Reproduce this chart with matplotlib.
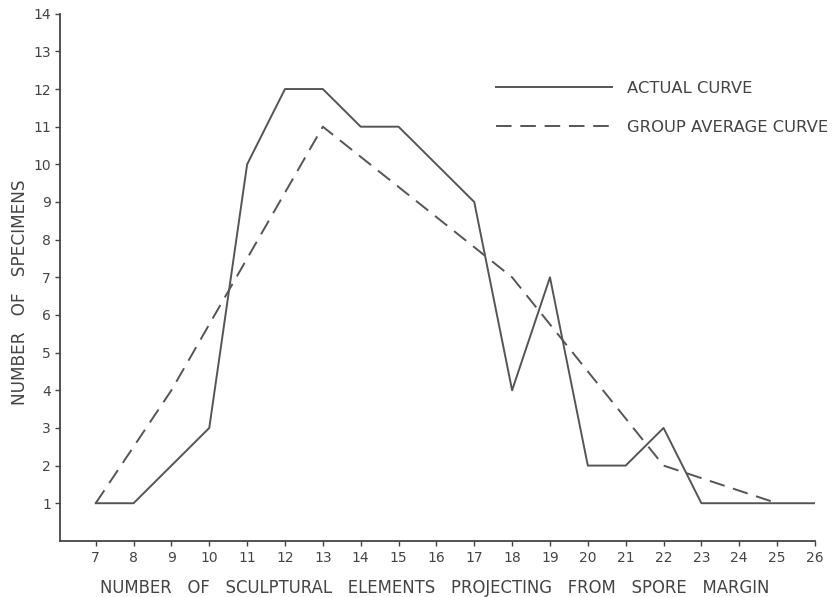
import matplotlib.pyplot as plt

# numero di elementi scultorei (asse x)
elementi = [7, 8, 9, 10, 11, 12, 13, 14, 15, 16, 17, 18, 19, 20, 21, 22, 23, 24, 25, 26]
# curva reale
campioni = [1, 1, 2, 3, 10, 12, 12, 11, 11, 10, 9, 4, 7, 2, 2, 3, 1, 1, 1, 1]

# curva media di gruppo (solo i vertici)
media_x = [7, 9, 13, 18, 22, 25]
media_y = [1, 4, 11, 7, 2, 1]

colore = "#555555"
testo = "#444444"

fig = plt.figure(figsize=(8.35, 5.97), dpi=100)
ax = fig.add_axes([0.072, 0.094, 0.904, 0.883])

ax.plot(elementi, campioni, color=colore, lw=1.4, label="ACTUAL CURVE")
ax.plot(media_x, media_y, color=colore, lw=1.4, linestyle=(0, (8, 4.5)),
        label="GROUP AVERAGE CURVE")

ax.set_xlim(6.06, 26)
ax.set_ylim(0, 14)
ax.set_xticks(elementi)
ax.set_yticks(range(1, 15))

ax.spines["top"].set_visible(False)
ax.spines["right"].set_visible(False)
for s in ("left", "bottom"):
    ax.spines[s].set_color(testo)
    ax.spines[s].set_linewidth(1.3)

ax.tick_params(axis="both", colors=testo, labelcolor=testo,
               length=3.5, width=1.0, labelsize=10)
ax.tick_params(axis="x", pad=4)
ax.tick_params(axis="y", pad=3)

# etichette degli assi posizionate a mano
fig.text(0.52, 1 - 588 / 597,
         "NUMBER   OF   SCULPTURAL   ELEMENTS   PROJECTING   FROM   SPORE   MARGIN",
         fontsize=11.9, color=testo, ha="center", va="center")
fig.text(20 / 835, 1 - 292 / 597, "NUMBER   OF   SPECIMENS", rotation=90,
         fontsize=12.2, color=testo, ha="center", va="center")

leg = ax.legend(loc="upper left", bbox_to_anchor=(0.558, 0.9), frameon=False,
                handlelength=7.1, handletextpad=0.9, labelspacing=1.45,
                fontsize=11.8, labelcolor=testo)

fig.savefig("out.png", dpi=100)
